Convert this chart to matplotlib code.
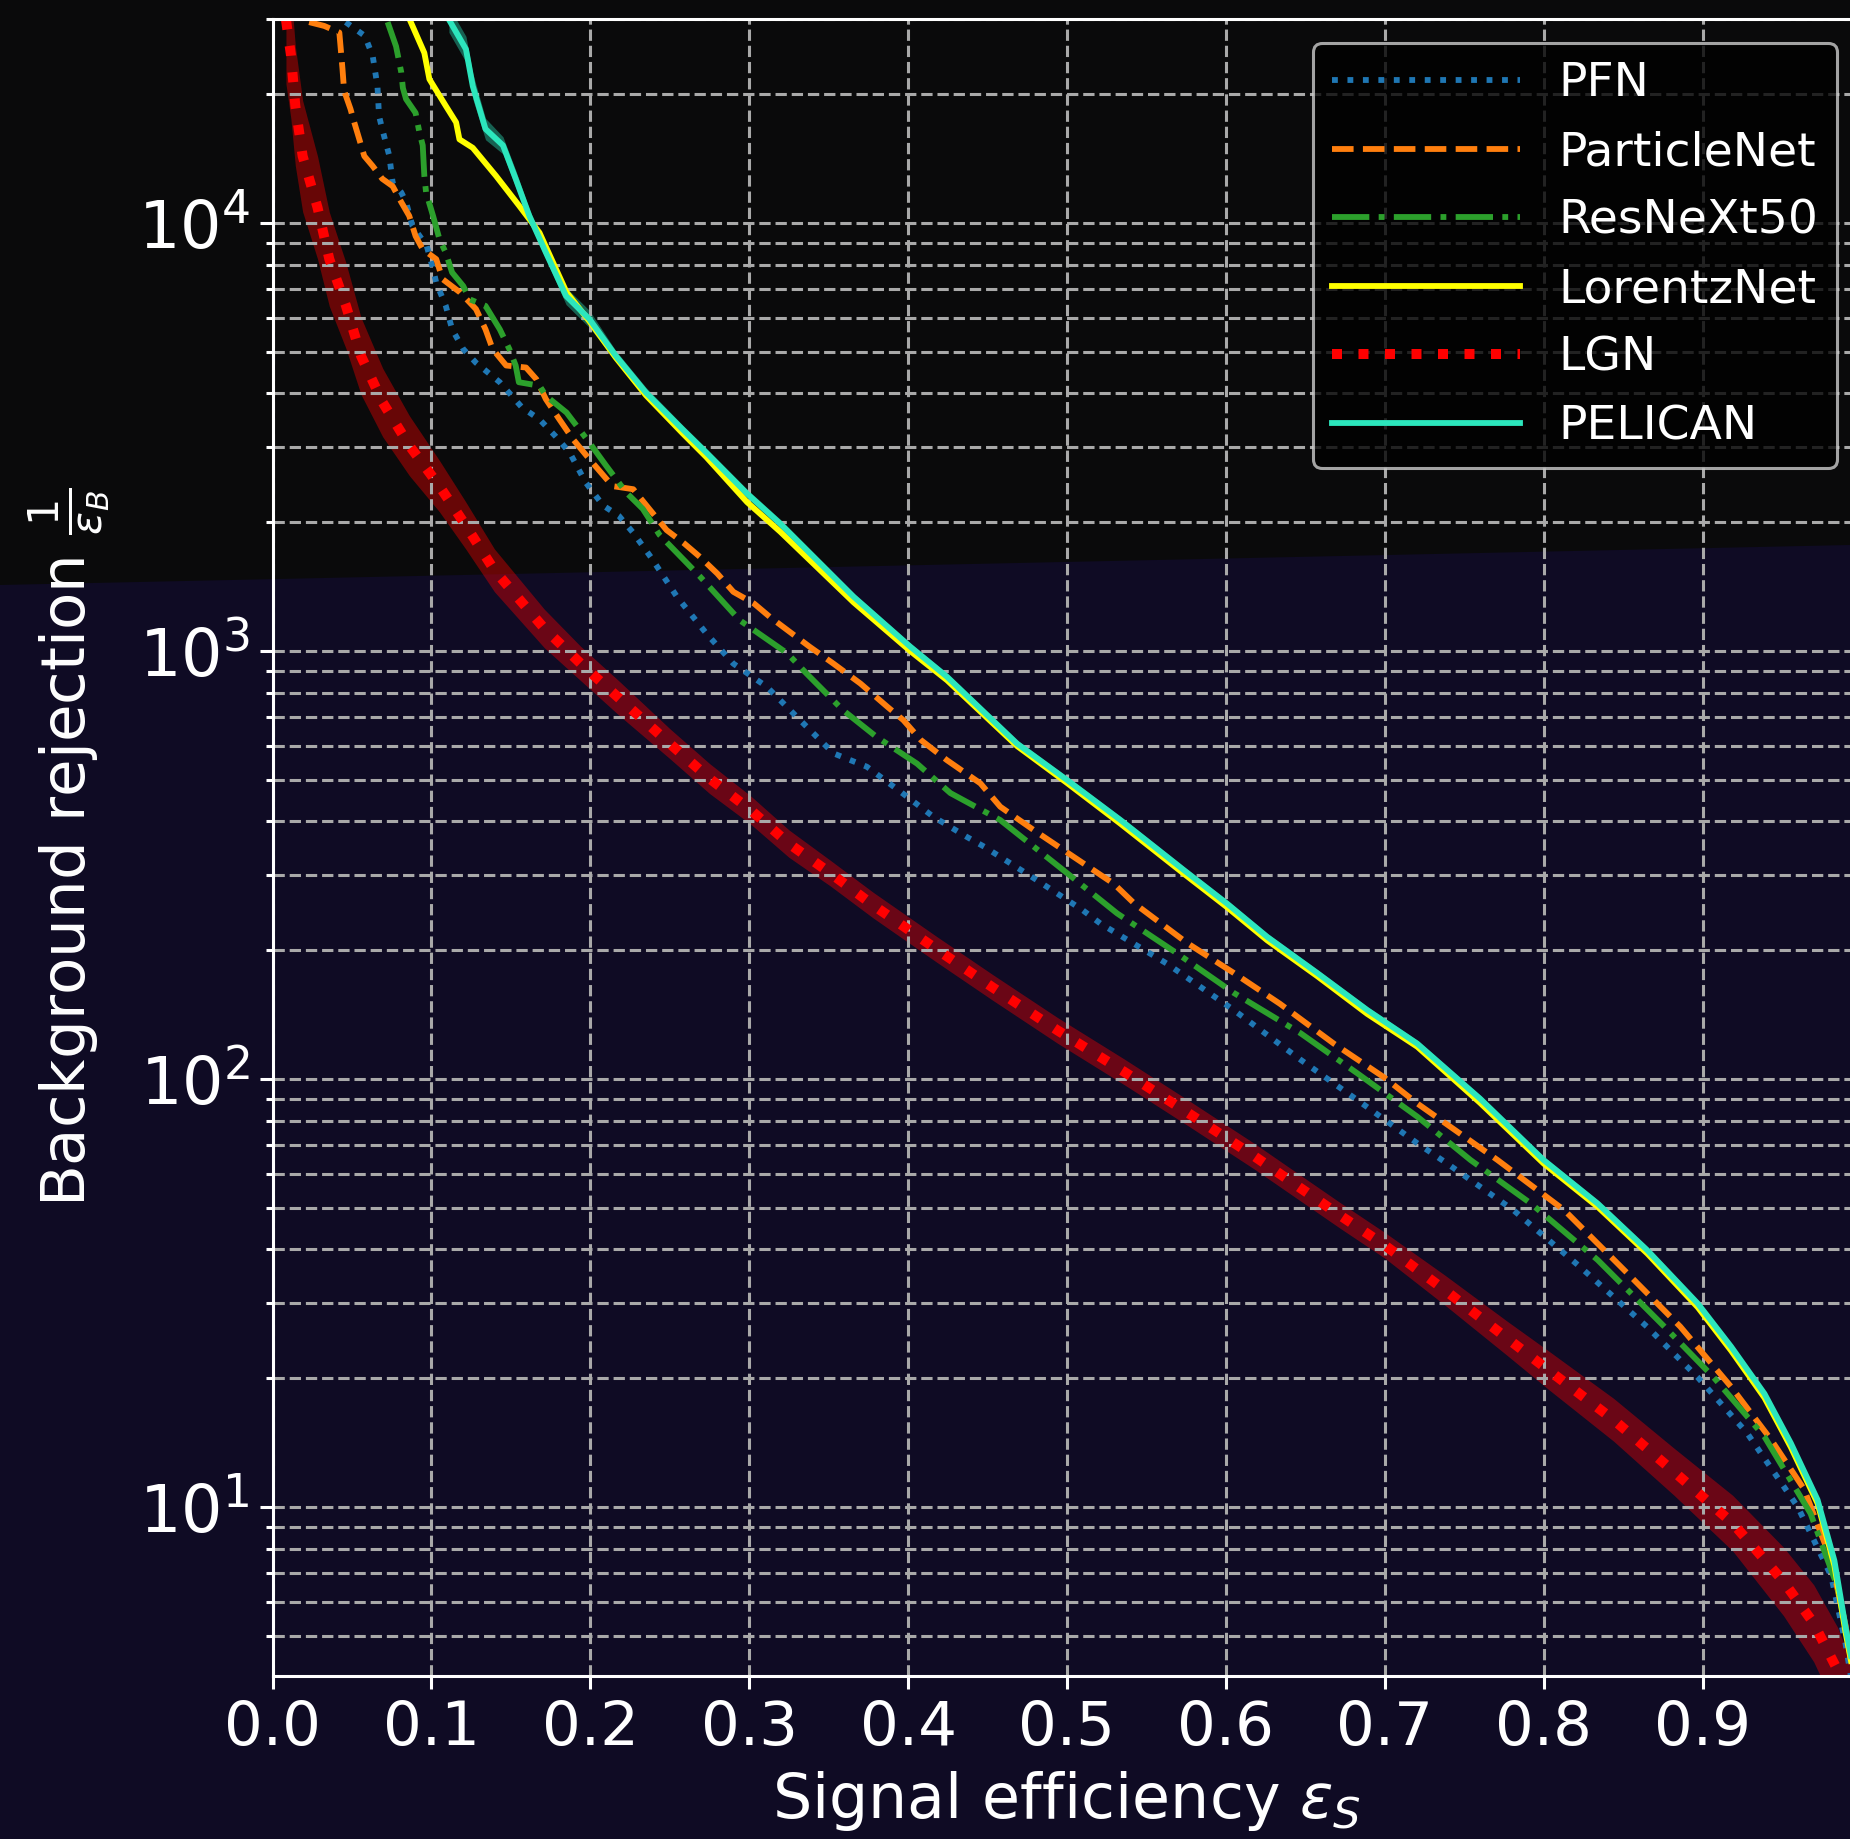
import matplotlib
matplotlib.use('Agg')
import numpy as np
import matplotlib.pyplot as plt
from matplotlib.patches import Polygon

# ROC curves: signal efficiency vs background rejection 1/eps_B
pfn_eff = [0.046, 0.058, 0.063, 0.066, 0.067, 0.069, 0.0735, 0.0756, 0.081, 0.084, 0.088, 0.097,
           0.101, 0.103, 0.109, 0.113, 0.120, 0.128, 0.143, 0.157, 0.168, 0.178, 0.187, 0.197,
           0.208, 0.218, 0.227, 0.238, 0.2545, 0.273, 0.290, 0.311, 0.332, 0.353, 0.374, 0.395,
           0.416, 0.437, 0.448, 0.479, 0.510, 0.521, 0.563, 0.605, 0.647, 0.689, 0.7205, 0.739,
           0.781, 0.823, 0.865, 0.897, 0.928, 0.960, 0.981, 0.990, 0.996]
pfn_rej = [29500, 27400, 24600, 20900, 17800, 16600, 14350, 12400, 11800, 11200, 9860, 8850,
           7820, 7260, 6410, 5650, 5080, 4720, 4250, 3710, 3480, 3180, 2910, 2480,
           2190, 2070, 1890, 1660, 1340, 1100, 935, 826, 690, 577, 537, 470,
           410, 368, 349, 295, 248, 231, 186, 145, 111, 86, 70.8, 63.6,
           49.4, 36.4, 26.4, 20.1, 14.9, 10.0, 6.9, 4.8, 3.5]

pnet_eff = [0.023, 0.0325, 0.042, 0.044, 0.045, 0.049, 0.0514, 0.0546, 0.0577, 0.063, 0.069, 0.0756,
            0.081, 0.086, 0.090, 0.0945, 0.103, 0.107, 0.118, 0.128, 0.134, 0.1385, 0.147, 0.1595,
            0.166, 0.172, 0.1805, 0.189, 0.1994, 0.214, 0.227, 0.2377, 0.248, 0.259, 0.269, 0.280,
            0.290, 0.303, 0.313, 0.324, 0.338, 0.353, 0.370, 0.387, 0.397, 0.408, 0.4245, 0.4455,
            0.458, 0.479, 0.504, 0.5295, 0.542, 0.5756, 0.605, 0.634, 0.668, 0.6995, 0.7205, 0.771,
            0.813, 0.855, 0.886, 0.918, 0.943, 0.964, 0.981, 0.990, 0.996]
pnet_rej = [29500, 28900, 27900, 22900, 20400, 18500, 17200, 15700, 14350, 13600, 12700, 12200,
            11200, 10400, 9330, 8690, 8240, 7400, 6890, 6300, 5650, 5080, 4650, 4600,
            4320, 3880, 3480, 3130, 2810, 2430, 2390, 2135, 1918, 1786, 1660, 1517,
            1376, 1292, 1202, 1120, 1024, 935, 840, 741, 690, 620, 556, 491,
            433, 382, 331, 286, 258, 208, 177, 150, 121, 101, 87.7, 64.7,
            49.4, 34.5, 26.4, 19.1, 14.4, 11.0, 7.5, 5.3, 3.8]

resnext_eff = [0.0724, 0.0777, 0.081, 0.082, 0.084, 0.090, 0.0924, 0.0945, 0.0955, 0.0966, 0.101, 0.105,
               0.109, 0.113, 0.120, 0.124, 0.134, 0.143, 0.149, 0.153, 0.155, 0.168, 0.172, 0.185,
               0.1994, 0.210, 0.2225, 0.233, 0.2435, 0.269, 0.294, 0.324, 0.336, 0.359, 0.380, 0.4056,
               0.4266, 0.458, 0.500, 0.5315, 0.569, 0.605, 0.647, 0.683, 0.7205, 0.754, 0.792, 0.834,
               0.876, 0.907, 0.939, 0.968, 0.985, 0.993, 0.997]
resnext_rej = [29500, 25900, 22500, 20700, 19500, 18100, 16300, 15200, 12900, 11800, 10400, 9180,
               8530, 7670, 7130, 6640, 6410, 5650, 5080, 4650, 4250, 4170, 3950, 3610,
               3070, 2710, 2350, 2150, 1870, 1494, 1181, 988, 887, 728, 631, 546,
               466, 403, 303, 244, 197, 159, 128, 103, 81.7, 64.7, 51.2, 37.8,
               26.4, 20.1, 14.6, 9.66, 6.5, 4.6, 3.6]

lorentz_eff = [0.087, 0.0955, 0.0987, 0.109, 0.1155, 0.1176, 0.126, 0.1406, 0.1553, 0.168, 0.185, 0.1994,
               0.216, 0.235, 0.258, 0.273, 0.2986, 0.3196, 0.3657, 0.4014, 0.4245, 0.4686, 0.500, 0.5337,
               0.5735, 0.6008, 0.626, 0.6575, 0.689, 0.7205, 0.760, 0.800, 0.834, 0.8653, 0.897, 0.918,
               0.939, 0.9556, 0.9724, 0.983, 0.990, 0.996]
lorentz_rej = [29500, 25000, 21700, 18800, 17200, 15700, 15000, 12900, 10970, 9500, 6900, 5900,
               4850, 3960, 3230, 2840, 2230, 1900, 1300, 1000, 855, 600, 492, 395,
               302, 252, 211, 174, 142, 119, 88, 63.5, 50.3, 39.1, 29.3, 23.2,
               18.0, 13.8, 10.2, 7.3, 5.1, 3.9]

lgn_eff = [0.0084, 0.0115, 0.0143, 0.0189, 0.0283, 0.0357, 0.0462, 0.0556, 0.0693, 0.0861, 0.105, 0.1217,
           0.1396, 0.171, 0.194, 0.2183, 0.250, 0.275, 0.301, 0.325, 0.351, 0.378, 0.418, 0.453,
           0.494, 0.536, 0.577, 0.618, 0.672, 0.700, 0.738, 0.777, 0.803, 0.844, 0.882, 0.919,
           0.951, 0.970, 0.985, 0.993]
lgn_rej = [29900, 24800, 18800, 14350, 10870, 8240, 6410, 4900, 3810, 3020, 2430, 1963,
           1545, 1130, 935, 775, 608, 504, 425, 355, 303, 255, 201, 164,
           130, 104, 83, 66, 48, 40.9, 32.1, 24.8, 20.9, 16.0, 12.1, 9.17,
           6.7, 5.35, 4.16, 3.5]
# half width of the LGN band, in decades
lgn_err = [0.15, 0.15, 0.14, 0.13, 0.12, 0.11, 0.10, 0.09, 0.08, 0.07, 0.06, 0.055,
           0.05, 0.045, 0.04, 0.04, 0.035, 0.035, 0.033, 0.032, 0.03, 0.03, 0.03, 0.03,
           0.03, 0.03, 0.03, 0.03, 0.03, 0.03, 0.035, 0.04, 0.045, 0.05, 0.055, 0.065,
           0.08, 0.09, 0.10, 0.10]

pelican_eff = [0.111, 0.1217, 0.126, 0.134, 0.145, 0.153, 0.1616, 0.172, 0.1847, 0.1994, 0.216, 0.235,
               0.258, 0.273, 0.2986, 0.3196, 0.3657, 0.4014, 0.4245, 0.4686, 0.500, 0.5337, 0.5735, 0.6008,
               0.626, 0.6575, 0.689, 0.7205, 0.760, 0.800, 0.834, 0.8653, 0.897, 0.918, 0.939, 0.9556,
               0.9724, 0.983, 0.990, 0.996]
pelican_rej = [29900, 25500, 20900, 16600, 15200, 12700, 10400, 8540, 6760, 5970, 4900, 4020,
               3300, 2910, 2335, 1985, 1340, 1024, 871, 608, 500, 403, 308, 257,
               215, 177, 145, 121, 90, 64.7, 51.2, 39.8, 29.9, 23.7, 18.4, 14.1,
               10.4, 7.5, 5.25, 4.0]
pelican_err = [0.03, 0.03, 0.03, 0.025, 0.02, 0.02, 0.015, 0.015, 0.02, 0.02, 0.012, 0.012,
               0.01, 0.01, 0.01, 0.01, 0.008, 0.008, 0.008, 0.008, 0.008, 0.008, 0.008, 0.008,
               0.008, 0.008, 0.008, 0.008, 0.008, 0.008, 0.008, 0.008, 0.008, 0.008, 0.008, 0.008,
               0.008, 0.008, 0.008, 0.008]

PELICAN_COLOR = '#2ce6bd'

fig = plt.figure(figsize=(9.25, 9.195), dpi=200, facecolor='#0f0b24')
# darker band across the top of the background
fig.add_artist(Polygon([[0, 1], [1, 1], [1, 1 - 545 / 1839], [0, 1 - 585 / 1839]], closed=True,
                       transform=fig.transFigure, facecolor='#0a0a0b', edgecolor='none', zorder=-1))

ax = fig.add_axes([0.14735, 0.08864, 0.85838, 0.90103])
ax.set_facecolor('none')

ax.plot(pfn_eff, pfn_rej, ls=':', color='tab:blue', lw=2.1, label='PFN')
ax.plot(pnet_eff, pnet_rej, ls='--', color='tab:orange', lw=2.1, label='ParticleNet')
ax.plot(resnext_eff, resnext_rej, ls='-.', color='tab:green', lw=2.1, label='ResNeXt50')
ax.plot(lorentz_eff, lorentz_rej, ls='-', color='yellow', lw=2.1, label='LorentzNet')

lgn_r = np.array(lgn_rej)
lgn_e = np.array(lgn_err)
ax.fill_between(lgn_eff, lgn_r * 10 ** (-lgn_e), lgn_r * 10 ** lgn_e, color='red', alpha=0.38, lw=0)
ax.plot(lgn_eff, lgn_rej, ls=':', color='red', lw=3.6, label='LGN')

pel_r = np.array(pelican_rej)
pel_e = np.array(pelican_err)
ax.fill_between(pelican_eff, pel_r * 10 ** (-pel_e), pel_r * 10 ** pel_e, color=PELICAN_COLOR, alpha=0.4, lw=0)
ax.plot(pelican_eff, pelican_rej, ls='-', color=PELICAN_COLOR, lw=2.1, label='PELICAN')

ax.set_yscale('log')
ax.set_xlim(0, 0.9995)
ax.set_ylim(4.03, 3e4)
ax.set_xticks(np.arange(0, 1.0, 0.1))

ax.grid(True, which='both', ls='--', color='#a9a9a9', lw=1.1)
ax.tick_params(which='both', colors='white', width=1.1)
ax.tick_params(axis='x', labelsize=22)
ax.tick_params(axis='y', labelsize=23.5)
ax.tick_params(which='major', length=4.7)
ax.tick_params(which='minor', length=2.5)
for side in ['left', 'bottom', 'top']:
    ax.spines[side].set_color('white')
    ax.spines[side].set_linewidth(1.1)
ax.spines['right'].set_visible(False)

ax.set_xlabel(r'Signal efficiency $\varepsilon_S$', fontsize=22.3, color='white')
ax.set_ylabel(r'Background rejection $\frac{1}{\varepsilon_B}$', fontsize=22, color='white')
ax.yaxis.set_label_coords(-0.101, 0.5)

leg = ax.legend(loc='upper right', fontsize=17, facecolor='black', edgecolor='0.8',
                labelcolor='white', handlelength=4.0, labelspacing=0.5, handletextpad=0.8)
leg.get_frame().set_linewidth(1.1)

fig.savefig('out.png', dpi=200, facecolor=fig.get_facecolor())
